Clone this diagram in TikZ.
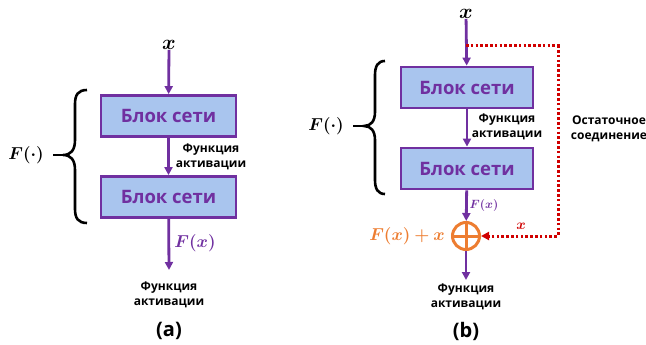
\documentclass[tikz,border=0pt]{standalone}
\usepackage{amsmath,bm}
\usepackage{fontspec}
\setmainfont{Open Sans}
\usetikzlibrary{arrows.meta}
\definecolor{pur}{HTML}{7030A0}
\definecolor{boxfill}{HTML}{A9C5EE}
\definecolor{org}{HTML}{ED7D31}
\definecolor{rd}{HTML}{D00000}
\begin{document}
\begin{tikzpicture}[x=1pt,y=-1pt,
  blk/.style={draw=pur, line width=2.8pt, fill=boxfill, minimum width=135pt, minimum height=41pt, inner sep=0pt, font=\bfseries\fontsize{18.5}{20}\selectfont, text=pur},
  arr/.style={draw=pur, line width=2.8pt, -{Triangle[length=8pt,width=8pt]}},
  lbl/.style={font=\bfseries\fontsize{12}{15}\selectfont, align=center, inner sep=0pt},
  mlbl/.style={font=\fontsize{17}{19}\selectfont, inner sep=0pt},
  xlbl/.style={font=\fontsize{21}{23}\selectfont, inner sep=0pt},
  brc/.style={draw=black, line width=2.6pt},
  captxt/.style={font=\bfseries\fontsize{20}{22}\selectfont, inner sep=0pt},
  resid/.style={draw=rd, line width=3pt, dash pattern=on 2.6pt off 2.2pt, -{Triangle[length=8pt,width=8pt]}}]
\useasboundingbox (0,0) rectangle (646,345);
% ---------- panel (a)
\node[xlbl] (ax) at (169,45) {$\bm{x}$};
\node[blk] (a1) at (168.5,116) {Блок сети};
\node[blk] (a2) at (168.5,197) {Блок сети};
\coordinate (aend) at (169,270);
\draw[arr] (ax) -- (a1);
\draw[arr] (a1) -- (a2);
\draw[arr] (a2) -- (aend);
\node[lbl] (aact1) at (211,157) {Функция\\активации};
\node[mlbl, text=pur] (afx) at (195,243) {$\bm{F(x)}$};
\node[lbl] (aact2) at (169,295) {Функция\\активации};
\node[captxt] (alab) at (169,331) {(a)};
\draw[brc] (87,90) .. controls (78,90) and (75,95) .. (75,104) -- (75,140)
  .. controls (75,150) and (71,155) .. (63,155)
  .. controls (71,155) and (75,160) .. (75,170) -- (75,209)
  .. controls (75,218) and (78,223) .. (87,223);
\draw[brc] (63,155) -- (53,155);
\node[mlbl] (afd) at (26,155) {$\bm{F(\cdot)}$};
% ---------- panel (b)
\node[xlbl] (bx) at (466,14) {$\bm{x}$};
\node[blk, minimum width=132pt, minimum height=41pt] (b1) at (467,87.5) {Блок сети};
\node[blk, minimum width=132pt, minimum height=41pt] (b2) at (467,168.5) {Блок сети};
\node[circle, draw=org, line width=3pt, minimum size=27pt, inner sep=0pt] (plus) at (466,236) {};
\draw[org, line width=3pt] (plus.north) -- (plus.south) (plus.west) -- (plus.east);
\coordinate (bend) at (466,280);
\coordinate (split) at (466,46);
\coordinate (rc1) at (558,46);
\coordinate (rc2) at (558,236);
\draw[arr] (bx) -- (b1);
\draw[arr] (b1) -- (b2);
\draw[arr] (b2) -- (plus);
\draw[arr] (plus) -- (bend);
\draw[resid] (split) -- (rc1) -- (rc2) -- (plus);
\node[lbl] (bact1) at (507,127) {Функция\\активации};
\node[font=\fontsize{12}{13}\selectfont, text=pur, inner sep=0pt] (bfx) at (484,205) {$\bm{F(x)}$};
\node[mlbl, text=org] (bsum) at (407,236) {$\bm{F(x)+x}$};
\node[font=\fontsize{14}{15}\selectfont, text=rd, inner sep=0pt] (bxr) at (521,226) {$\bm{x}$};
\node[lbl] (bact2) at (466,297) {Функция\\активации};
\node[lbl] (res) at (609,129) {Остаточное\\соединение};
\node[captxt] (blab) at (466,331) {(b)};
\draw[brc] (385,61) .. controls (378,61) and (375,66) .. (375,75) -- (375,112)
  .. controls (375,121) and (371,126) .. (364,126)
  .. controls (371,126) and (375,131) .. (375,140) -- (375,180)
  .. controls (375,189) and (378,194) .. (385,194);
\draw[brc] (364,126) -- (353,126);
\node[mlbl] (bfd) at (326,126) {$\bm{F(\cdot)}$};
\end{tikzpicture}
\end{document}
